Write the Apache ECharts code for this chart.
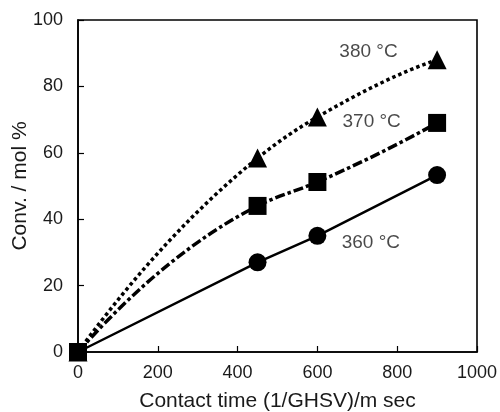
<!DOCTYPE html>
<html>
<head>
<meta charset="utf-8">
<script src="https://cdn.jsdelivr.net/npm/echarts@6/dist/echarts.min.js"></script>
<style>
  html, body { margin: 0; padding: 0; background: #fff; }
  #mycharts { width: 500px; height: 412px; }
</style>
</head>
<body>
<div id="mycharts"></div>
<script>
// contact time (1/GHSV) / m sec
var contactTime = [0, 450, 600, 900];
// conversion / mol %
var conv360 = [0, 27, 35, 53.3];
var conv370 = [0, 44, 51.2, 69];
var conv380 = [0, 58.4, 70.8, 88];
var seriesNames = ["360 °C", "370 °C", "380 °C"];
var xTicks = [0, 200, 400, 600, 800, 1000];
var yTicks = [0, 20, 40, 60, 80, 100];

var font = "Liberation Sans";
var black = "#000";
var textColor = "#1a1a1a";

function pairs(ys) {
  return contactTime.map(function (x, i) { return [x, ys[i]]; });
}

// smooth monotone curve through the measured points (drawn in pixel space)
function curveSeries(ys, width, dash, z) {
  return {
    type: "custom",
    silent: true,
    z: z,
    data: [[contactTime[0], ys[0]]],
    renderItem: function (params, api) {
      var pts = contactTime.map(function (x, i) { return api.coord([x, ys[i]]); });
      var n = pts.length, h = [], d = [], m = [];
      for (var i = 0; i < n - 1; i++) {
        h[i] = pts[i + 1][0] - pts[i][0];
        d[i] = (pts[i + 1][1] - pts[i][1]) / h[i];
      }
      m[0] = ((2 * h[0] + h[1]) * d[0] - h[0] * d[1]) / (h[0] + h[1]);
      for (var k = 1; k < n - 1; k++) {
        if (d[k - 1] * d[k] <= 0) { m[k] = 0; continue; }
        var w1 = 2 * h[k] + h[k - 1], w2 = h[k] + 2 * h[k - 1];
        m[k] = (w1 + w2) / (w1 / d[k - 1] + w2 / d[k]);
      }
      m[n - 1] = ((2 * h[n - 2] + h[n - 3]) * d[n - 2] - h[n - 2] * d[n - 3]) / (h[n - 2] + h[n - 3]);
      var children = [];
      for (var j = 0; j < n - 1; j++) {
        var t = h[j] / 3;
        children.push({
          type: "bezierCurve",
          shape: {
            x1: pts[j][0], y1: pts[j][1],
            x2: pts[j + 1][0], y2: pts[j + 1][1],
            cpx1: pts[j][0] + t, cpy1: pts[j][1] + m[j] * t,
            cpx2: pts[j + 1][0] - t, cpy2: pts[j + 1][1] - m[j + 1] * t
          },
          style: { stroke: black, fill: null, lineWidth: width, lineDash: dash }
        });
      }
      return { type: "group", children: children };
    }
  };
}

var myCharts = echarts.init(document.getElementById("mycharts"));

var option = {
  backgroundColor: "#fff",
  animation: false,
  grid: {
    left: 78, top: 20, right: 23, bottom: 60,
    outerBoundsMode: "none",
    containLabel: false,
    show: true, borderColor: black, borderWidth: 1.6
  },
  xAxis: {
    type: "value",
    min: xTicks[0],
    max: xTicks[xTicks.length - 1],
    interval: 200,
    name: "Contact time (1/GHSV)/m sec",
    nameLocation: "middle",
    nameGap: 39,
    nameMoveOverlap: false,
    nameTextStyle: { fontFamily: font, fontSize: 21, color: textColor },
    axisLine: { lineStyle: { color: black, width: 1.6 } },
    axisTick: { inside: true, length: 6, lineStyle: { color: black, width: 1.2 } },
    axisLabel: {
      fontFamily: font, fontSize: 18, color: textColor, margin: 12,
      formatter: function (v) { return String(v); }
    },
    splitLine: { show: false }
  },
  yAxis: {
    type: "value",
    min: yTicks[0],
    max: yTicks[yTicks.length - 1],
    interval: 20,
    name: "Conv. / mol %",
    nameLocation: "middle",
    nameRotate: 90,
    nameGap: 47,
    nameMoveOverlap: false,
    nameTextStyle: { fontFamily: font, fontSize: 21, color: textColor },
    axisLine: { lineStyle: { color: black, width: 1.6 } },
    axisTick: { inside: true, length: 6, lineStyle: { color: black, width: 1.2 } },
    axisLabel: { fontFamily: font, fontSize: 18, color: textColor, margin: 15 },
    splitLine: { show: false }
  },
  series: [
    {
      name: seriesNames[0],
      type: "line",
      data: pairs(conv360),
      symbol: "circle",
      symbolSize: 18,
      itemStyle: { color: black, opacity: 1 },
      lineStyle: { color: black, width: 2.5, type: "solid" },
      z: 3
    },
    curveSeries(conv380, 3.5, [3.5, 3], 2),
    curveSeries(conv370, 3.5, [10, 3, 3.5, 3], 2),
    {
      name: seriesNames[2],
      type: "scatter",
      data: pairs(conv380),
      symbol: "triangle",
      symbolSize: 19,
      itemStyle: { color: black, opacity: 1 },
      z: 4
    },
    {
      name: seriesNames[1],
      type: "scatter",
      data: pairs(conv370),
      symbol: "rect",
      symbolSize: 18,
      itemStyle: { color: black, opacity: 1 },
      z: 5
    },
    {
      type: "scatter",
      symbolSize: 0,
      silent: true,
      data: [[728, 90.3], [736, 69.2], [734, 32.8]],
      label: {
        show: true,
        position: "inside",
        fontFamily: font,
        fontSize: 19,
        color: textColor,
        formatter: function (p) { return [seriesNames[2], seriesNames[1], seriesNames[0]][p.dataIndex]; }
      },
      z: 6
    }
  ]
};

myCharts.setOption(option);
</script>
</body>
</html>
